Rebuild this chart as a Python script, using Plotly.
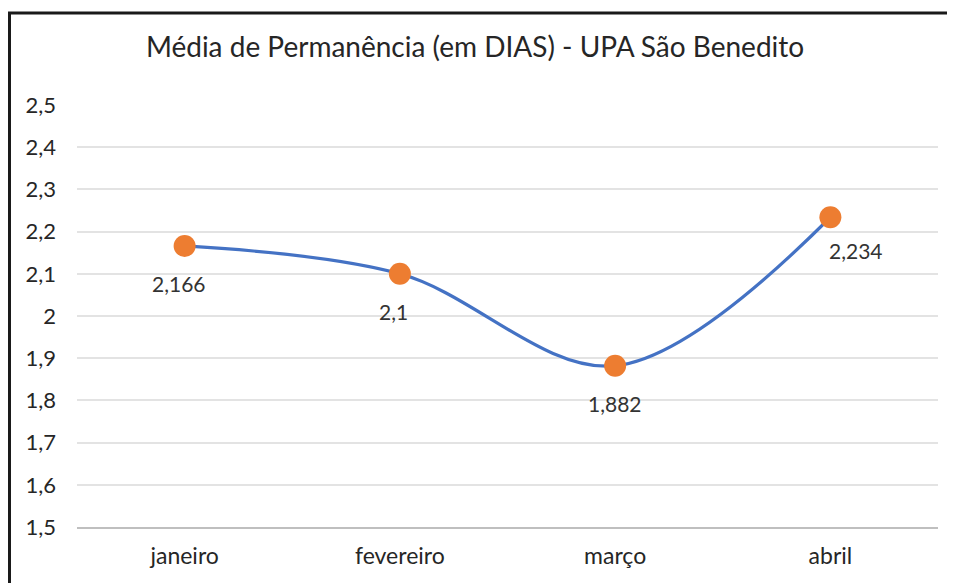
import plotly.graph_objects as go

categories = ["janeiro", "fevereiro", "março", "abril"]
values = [2.166, 2.1, 1.882, 2.234]
label_texts = ["2,166", "2,1", "1,882", "2,234"]
title_text = "Média de Permanência (em DIAS) - UPA São Benedito"

FONT = "Lato"
OFF = 8  # page body margin

fig = go.Figure()
fig.add_trace(go.Scatter(
    x=categories, y=values, mode="lines+markers",
    line=dict(color="#4472C4", width=3.2, shape="spline", smoothing=1.0),
    marker=dict(color="#ED7D31", size=22, line=dict(width=0)),
    hoverinfo="skip", showlegend=False,
))

label_shift = [(-6, -38), (-6, -38), (0, -38), (26, -33)]
for c, v, t, (dx, dy) in zip(categories, values, label_texts, label_shift):
    fig.add_annotation(x=c, y=v, text=t, showarrow=False, xshift=dx, yshift=dy,
                       font=dict(family=FONT, size=21, color="#333333"))

L, R, T, B = 77 - OFF, 938 - OFF, 105 - OFF, 527 - OFF
pw, ph = R - L, B - T
fig.add_shape(type="rect", xref="paper", yref="paper",
              x0=(1.5 - L) / pw, x1=1.2, y0=-0.3, y1=1 + (T - (13 - OFF)) / ph,
              line=dict(color="#1a1a1a", width=3), fillcolor="rgba(0,0,0,0)", layer="above")

fig.update_layout(
    width=955, height=583,
    margin=dict(l=L, r=955 - R, t=T, b=583 - B),
    paper_bgcolor="white", plot_bgcolor="white",
    separators=",.",
    title=dict(text=title_text, x=(475 - OFF) / 955, xref="container", xanchor="center",
               y=1 - (47 - OFF) / 583, yref="container", yanchor="middle",
               font=dict(family=FONT, size=28, color="#262626")),
    xaxis=dict(range=[-0.5, len(categories) - 0.5], showgrid=False, showline=True,
               linecolor="#BFBFBF", linewidth=2,
               ticks="", ticklabelstandoff=7,
               tickfont=dict(family=FONT, size=23, color="#262626")),
    yaxis=dict(range=[1.5, 2.5], dtick=0.1, tick0=1.5, showgrid=True,
               gridcolor="#E3E3E3", gridwidth=1.5, zeroline=False, showline=False,
               ticks="", ticklabelstandoff=20,
               tickfont=dict(family=FONT, size=22, color="#262626")),
)

fig.write_html("out.html")
